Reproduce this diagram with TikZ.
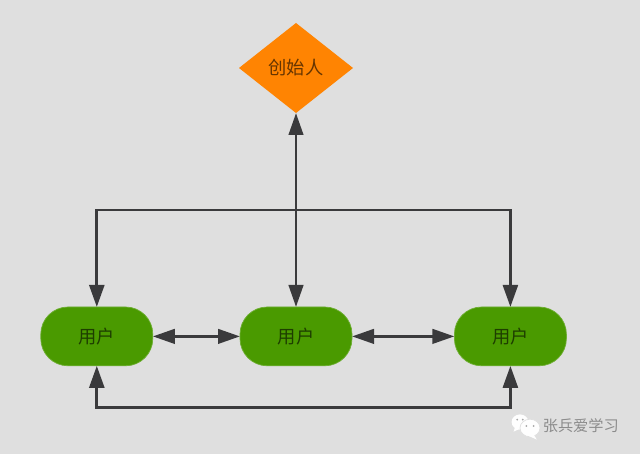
\documentclass[tikz,border=0pt]{standalone}
\usepackage{fontspec}
\usepackage{xcolor}
\usetikzlibrary{arrows.meta,positioning,shapes.geometric}
\newfontfamily\cjk{Noto Sans CJK SC}
\definecolor{bgc}{HTML}{DFDFDF}
\definecolor{usergreen}{HTML}{4A9A00}
\definecolor{founder}{HTML}{FF8402}
\definecolor{linec}{HTML}{3A3A3C}

\begin{document}
\begin{tikzpicture}[
  usernode/.style={draw=usergreen!80!white,line width=0.5pt,fill=usergreen,rounded corners=0.68cm,minimum width=2.8cm,minimum height=1.47cm,inner sep=0pt,outer sep=0pt,font=\cjk\fontsize{13pt}{15pt}\selectfont,text=black!60!usergreen},
  topnode/.style={diamond,fill=founder,aspect=1.27,minimum width=2.85cm,minimum height=2.25cm,inner sep=0pt,outer sep=0pt,font=\cjk\fontsize{13pt}{15pt}\selectfont,text=black!60!founder},
  arr/.style={line width=2.1pt,linec,-{Triangle[length=0.55cm,width=0.37cm]}},
  dblarr/.style={line width=2.1pt,linec,{Triangle[length=0.55cm,width=0.36cm]}-{Triangle[length=0.55cm,width=0.36cm]}},
  bubble/.style={fill=white!96!bgc},
  eye/.style={fill=black!35}]
  \fill[bgc] (0,0) rectangle (16,11.35);
  \node[topnode] (top) at (7.4,9.65) {创始人};
  \node[usernode] (ua) at (2.42,2.94) {用户};
  \node[usernode] (ub) at (7.4,2.94) {用户};
  \node[usernode] (uc) at (12.76,2.94) {用户};
  \coordinate (hub) at (7.4,6.1);
  \coordinate (lowa) at (2.42,1.17);
  \coordinate (lowc) at (12.76,1.17);
  \draw[dblarr] (top) -- (ub);
  \draw[arr] (hub) -| (ua);
  \draw[arr] (hub) -| (uc);
  \draw[dblarr] (ua) -- (ub);
  \draw[dblarr] (ub) -- (uc);
  \draw[arr] (lowc) -- (lowa) -- (ua);
  \draw[arr] (lowa) -- (lowc) -- (uc);
  % watermark
  \fill[bubble] (13,0.8) ellipse (0.21cm and 0.19cm);
  \fill[bubble] (12.88,0.68) -- (12.84,0.56) -- (13.02,0.64) -- cycle;
  \fill[eye] (12.93,0.86) circle (0.025cm) (13.07,0.86) circle (0.025cm);
  \draw[bgc,line width=0.5pt,fill=white!96!bgc] (13.25,0.65) ellipse (0.25cm and 0.22cm);
  \fill[bubble] (13.34,0.49) -- (13.42,0.36) -- (13.22,0.45) -- cycle;
  \fill[eye] (13.16,0.7) circle (0.025cm) (13.34,0.7) circle (0.025cm);
  \node[font=\cjk\fontsize{10.8pt}{12pt}\selectfont,text=black!45,inner sep=0pt] (mark) at (14.52,0.7) {张兵爱学习};
\end{tikzpicture}
\end{document}
